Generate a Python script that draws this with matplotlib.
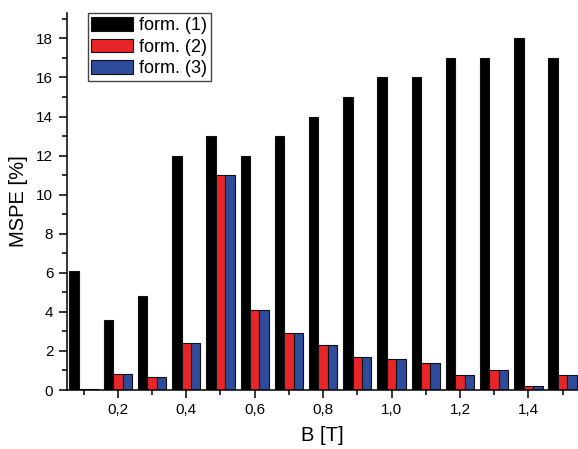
import numpy as np
import matplotlib
matplotlib.use("Agg")
import matplotlib.pyplot as plt
from matplotlib.ticker import MultipleLocator, FuncFormatter

plt.rcParams['font.family'] = ['Liberation Sans', 'DejaVu Sans']

# Magnetic flux density values (T)
b_field = [0.1, 0.2, 0.3, 0.4, 0.5, 0.6, 0.7, 0.8, 0.9, 1.0, 1.1, 1.2, 1.3, 1.4, 1.5]

# MSPE (%) for each formula
form1 = [6.1, 3.6, 4.8, 12, 13, 12, 13, 14, 15, 16, 16, 17, 17, 18, 17]
form2 = [0.05, 0.8, 0.65, 2.4, 11, 4.1, 2.9, 2.3, 1.7, 1.6, 1.4, 0.75, 1.0, 0.22, 0.75]
form3 = [0.05, 0.8, 0.65, 2.4, 11, 4.1, 2.9, 2.3, 1.7, 1.6, 1.4, 0.75, 1.0, 0.22, 0.75]

series = [("form. (1)", form1, "#000000"),
          ("form. (2)", form2, "#e8262a"),
          ("form. (3)", form3, "#2f4b9b")]

fig = plt.figure(figsize=(5.78, 4.49), dpi=100)
ax = fig.add_axes([66.5 / 578, 1 - 390 / 449, 1 - 66.5 / 578, (390 - 13) / 449])

x = np.array(b_field)
w = 0.0275
for i, (label, vals, col) in enumerate(series):
    ax.bar(x + (i - 1) * w, vals, width=w, color=col, edgecolor="#111111",
           linewidth=0.8, label=label)

ax.set_xlim(0.05, 1.545)
ax.set_ylim(0, 19.3)

for side in ("top", "right"):
    ax.spines[side].set_visible(False)
for side in ("left", "bottom"):
    ax.spines[side].set_linewidth(1.1)

ax.xaxis.set_major_locator(MultipleLocator(0.2))
ax.xaxis.set_minor_locator(MultipleLocator(0.1))
ax.yaxis.set_major_locator(MultipleLocator(2))
ax.yaxis.set_minor_locator(MultipleLocator(1))
ax.xaxis.set_major_formatter(FuncFormatter(lambda v, p: f"{v:.1f}".replace(".", ",")))
ax.yaxis.set_major_formatter(FuncFormatter(lambda v, p: f"{v:.0f}"))

ax.tick_params(which="major", direction="out", length=6, width=1.1, labelsize=11)
ax.tick_params(which="minor", direction="out", length=3.5, width=1.1)

ax.set_xlabel("B [T]", fontsize=14.5, labelpad=6)
ax.set_ylabel("MSPE [%]", fontsize=14.5, labelpad=6)

leg = ax.legend(loc="upper left", bbox_to_anchor=(87.7 / 578, 1 - 13.3 / 449),
                bbox_transform=fig.transFigure, borderaxespad=0, fontsize=13,
                frameon=True, fancybox=False, framealpha=1, edgecolor="#444444",
                handlelength=2.3, handleheight=0.8, handletextpad=0.35,
                borderpad=0.2, labelspacing=0.25)
leg.get_frame().set_linewidth(1.0)

fig.savefig("out.png", dpi=100)
